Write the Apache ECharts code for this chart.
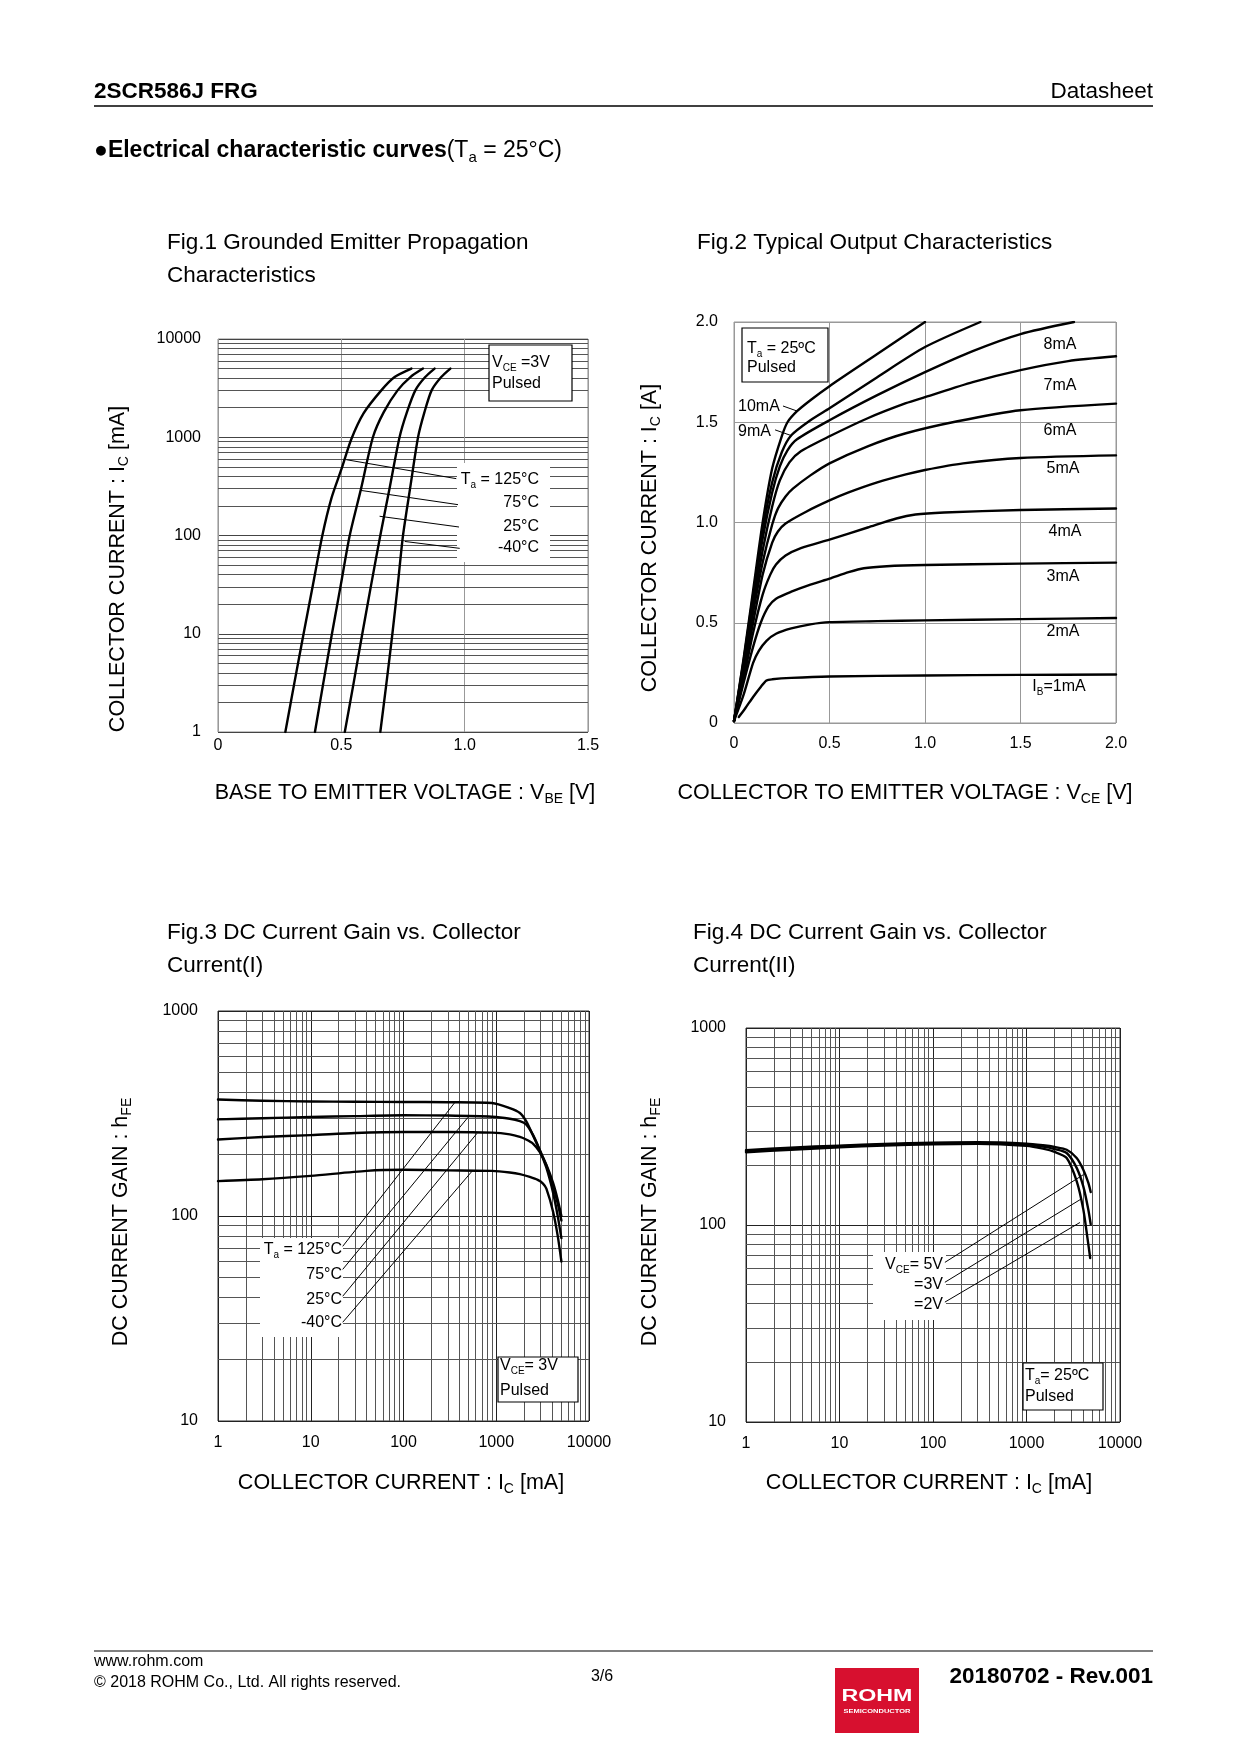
<!DOCTYPE html>
<html><head><meta charset="utf-8">
<script src="https://cdn.jsdelivr.net/npm/echarts@6/dist/echarts.min.js"></script>
<style>html,body{margin:0;padding:0;background:#fff}#c{width:1240px;height:1754px}</style>
</head><body><div id="c"></div>
<script>
const FF = "'Liberation Sans', Arial, Helvetica, sans-serif";

// ---------- Fig.1 : VBE [V] -> IC [mA] ----------
const fig1Ta125 = [[0.273,1],[0.31,3.2],[0.347,10],[0.385,31.6],[0.423,100],[0.46,240],[0.5,470],[0.54,950],[0.59,1750],[0.662,3000],[0.716,4100],[0.784,5000]];
const fig1Ta75  = [[0.393,1],[0.427,3.16],[0.462,10],[0.498,31.6],[0.534,100],[0.58,300],[0.628,1000],[0.672,1800],[0.728,3000],[0.78,4100],[0.831,5000]];
const fig1Ta25  = [[0.514,1],[0.55,3.16],[0.585,10],[0.621,31.6],[0.658,100],[0.697,316],[0.736,1000],[0.766,1800],[0.8,3000],[0.84,4100],[0.878,5000]];
const fig1TaM40 = [[0.658,1],[0.683,3.16],[0.707,10],[0.729,31.6],[0.75,100],[0.78,316],[0.811,1000],[0.837,1800],[0.866,3000],[0.905,4100],[0.942,5000]];
const fig1Leaders = [
  [[0.52,591],[0.966,379]],
  [[0.578,288],[0.973,206]],
  [[0.655,157],[0.977,122]],
  [[0.757,87],[0.98,74]]
];
const fig1Labels = ['T{s|a} = 125°C','75°C','25°C','-40°C'];

// ---------- Fig.2 : VCE [V] -> IC [A] ----------
const fig2IB1  = [[0.025,0.03],[0.06,0.075],[0.1,0.13],[0.14,0.18],[0.17,0.212],[0.2,0.218],[0.3,0.225],[0.5,0.232],[1.0,0.237],[1.5,0.24],[2.0,0.242]];
const fig2IB2  = [[0,0.01],[0.05,0.14],[0.1,0.3],[0.13,0.36],[0.17,0.41],[0.22,0.445],[0.3,0.472],[0.4,0.492],[0.5,0.503],[0.75,0.508],[1.0,0.512],[1.5,0.518],[2.0,0.524]];
const fig2IB3  = [[0,0.01],[0.05,0.2],[0.1,0.38],[0.14,0.5],[0.18,0.58],[0.22,0.62],[0.3,0.655],[0.4,0.69],[0.5,0.72],[0.6,0.752],[0.68,0.772],[0.8,0.782],[1.0,0.788],[1.5,0.795],[2.0,0.8]];
const fig2IB4  = [[0,0.01],[0.05,0.22],[0.1,0.45],[0.15,0.64],[0.19,0.74],[0.22,0.79],[0.27,0.835],[0.35,0.872],[0.5,0.915],[0.7,0.975],[0.85,1.02],[0.95,1.04],[1.1,1.05],[1.5,1.062],[2.0,1.07]];
const fig2IB5  = [[0,0.01],[0.05,0.25],[0.1,0.5],[0.15,0.74],[0.2,0.9],[0.23,0.955],[0.27,0.995],[0.38,1.055],[0.5,1.11],[0.6,1.15],[0.75,1.2],[0.9,1.24],[1.0,1.262],[1.2,1.295],[1.5,1.322],[2.0,1.335]];
const fig2IB6  = [[0,0.01],[0.05,0.27],[0.1,0.55],[0.15,0.8],[0.2,0.99],[0.23,1.07],[0.27,1.13],[0.31,1.17],[0.4,1.235],[0.5,1.295],[0.7,1.38],[0.9,1.445],[1.17,1.505],[1.5,1.56],[2.0,1.593]];
const fig2IB7  = [[0,0.01],[0.05,0.28],[0.1,0.58],[0.15,0.86],[0.2,1.08],[0.24,1.21],[0.29,1.3],[0.35,1.355],[0.5,1.43],[0.7,1.52],[0.9,1.595],[1.0,1.625],[1.25,1.7],[1.5,1.76],[1.75,1.805],[2.0,1.829]];
const fig2IB8  = [[0,0.01],[0.05,0.3],[0.1,0.62],[0.15,0.92],[0.2,1.15],[0.24,1.28],[0.28,1.36],[0.33,1.415],[0.5,1.51],[0.75,1.635],[1.0,1.75],[1.25,1.855],[1.5,1.94],[1.78,2.0]];
const fig2IB9  = [[0,0.01],[0.05,0.31],[0.1,0.64],[0.15,0.96],[0.2,1.2],[0.25,1.35],[0.3,1.435],[0.4,1.51],[0.5,1.57],[0.75,1.725],[1.0,1.875],[1.29,2.0]];
const fig2IB10 = [[0,0.01],[0.05,0.32],[0.1,0.66],[0.15,1.0],[0.2,1.27],[0.25,1.43],[0.28,1.5],[0.33,1.555],[0.4,1.61],[0.5,1.68],[0.75,1.84],[1.0,2.0]];
const fig2Leaders = [
  [[0.2565,1.581],[0.33,1.556]],
  [[0.215,1.462],[0.304,1.432]]
];
const fig2CurveLabels = ['8mA','7mA','6mA','5mA','4mA','3mA','2mA','I{s|B}=1mA'];

// ---------- Fig.3 : IC [mA] -> hFE (VCE=3V) ----------
const fig3Ta125 = [[1,370],[3,365],[10,362],[30,361],[100,360],[300,359],[900,356],[1400,336],[1800,318],[2100,290],[2500,246],[2950,208],[3470,172],[4100,130],[4600,100],[5040,78]];
const fig3Ta75  = [[1,296],[3,300],[10,304],[30,307],[100,310],[300,309],[900,305],[1400,298],[1800,290],[2100,280],[2500,248],[2950,210],[3470,176],[4100,140],[4600,115],[5040,95]];
const fig3Ta25  = [[1,236],[3,243],[10,248],[30,254],[100,257],[300,257],[900,255],[1400,250],[1800,243],[2100,236],[2500,225],[2950,205],[3470,178],[4100,145],[4600,120],[5040,100]];
const fig3TaM40 = [[1,148],[3,151],[10,157],[40,166],[100,168],[300,167],[900,166],[1400,163],[1800,160],[2300,155],[2800,150],[3190,144],[3470,136],[4100,105],[4600,80],[5040,60]];
const fig3Leaders = [
  [[356,357],[22.1,71.1]],
  [[496,303],[22.1,54.9]],
  [[620,253],[22.1,40.6]],
  [[552,166],[22.1,30.3]]
];
const fig3Labels = ['T{s|a} = 125°C','75°C','25°C','-40°C'];

// ---------- Fig.4 : IC [mA] -> hFE (Ta=25°C) ----------
const fig4Vce5 = [[1,240],[3,247],[10,253],[30,258],[100,262],[300,263],[1000,259],[1500,254],[2000,249],[2690,241],[3440,219],[4050,191],[4580,164],[4860,147]];
const fig4Vce3 = [[1,237],[3,244],[10,251],[30,256],[100,260],[300,261],[1000,256],[1500,250],[2000,243],[2690,232],[3440,195],[4050,157],[4580,120],[4860,101]];
const fig4Vce2 = [[1,234],[3,241],[10,248],[30,253],[100,257],[300,258],[1000,252],[1500,244],[2000,235],[2690,219],[3440,167],[4050,120],[4500,85],[4800,68]];
const fig4Leaders = [
  [[4050,180],[134,64.6]],
  [[3890,136],[134,51.2]],
  [[3730,103],[134,40.6]]
];
const fig4Labels = ['V{s|CE}= 5V','=3V','=2V'];

// ---------- tick values ----------
const logMult = [2,3,4,5,6,7,8,9];
const fig1YMinor = [1,10,100,1000].flatMap(d => logMult.map(m => d*m));
const fig34XMinor = [1,10,100,1000].flatMap(d => logMult.map(m => d*m));
const fig34YMinor = [10,100].flatMap(d => logMult.map(m => d*m));

// ---------- helpers ----------
function curve(i, data, w) {
  return {type:'line', xAxisIndex:i, yAxisIndex:i, data, showSymbol:false, symbol:'none',
    smooth:0.25, lineStyle:{color:'#000', width:w||2.4, join:'round', cap:'round'}, z:8, silent:true, animation:false, clip:true};
}
function leader(i, data) {
  return {type:'line', xAxisIndex:i, yAxisIndex:i, data, showSymbol:false, symbol:'none',
    lineStyle:{color:'#000', width:1}, z:9, silent:true, animation:false, clip:false};
}
function gridLines(i, axis, vals, color) {
  return {type:'line', xAxisIndex:i, yAxisIndex:i, data:[], z:1, silent:true, animation:false,
    markLine:{silent:true, z:1, symbol:['none','none'], label:{show:false}, animation:false,
      lineStyle:{type:'solid', color, width:1},
      data: vals.map(v => axis === 'x' ? {xAxis:v} : {yAxis:v})}};
}
function rich(size) {
  const s = Math.round(size*0.65);
  return {
    s:{fontSize:s, fontFamily:FF, fill:'#000', color:'#000', verticalAlign:'bottom', lineHeight:s},
    b:{fontSize:size, fontFamily:FF, fontWeight:'bold', fill:'#000', color:'#000', lineHeight:Math.round(size*1.25)}
  };
}
function T(x, y, text, o) {
  o = o || {};
  const size = o.size || 16;
  const al = o.align || 'left';
  return {type:'text', x, y, rotation:o.rot||0, z:20, silent:true, scaleX:o.sx||1,
    style:{text, fill:o.fill||'#000', fontSize:size, fontFamily:o.ff||FF, fontWeight:o.bold?'bold':'normal',
      textAlign:al, align:al, textVerticalAlign:'middle', verticalAlign:'middle',
      lineHeight:Math.round(size*1.25), rich:rich(size)}};
}
function box(x, y, w, h, fill, stroke, z) {
  return {type:'rect', shape:{x, y, width:w, height:h}, z:z||15, silent:true,
    style:{fill:fill, stroke:stroke||null, lineWidth:stroke?1.2:0}};
}
function hline(x1, x2, y, w) {
  return {type:'line', shape:{x1, y1:y, x2, y2:y}, z:20, silent:true, style:{stroke:'#000', lineWidth:w||1}};
}

const lab = (extra) => Object.assign({fontSize:16, color:'#000', fontFamily:FF, showMinLabel:true, showMaxLabel:true}, extra);
const linFmt = v => v === 0 ? '0' : v.toFixed(1);
const logFmt = v => String(Math.round(v));
const noLine = {show:false};

const option = {
  animation:false,
  backgroundColor:'#fff',
  grid:[
    {left:218, top:339, width:370, height:393, show:true, borderColor:'#888', borderWidth:1, backgroundColor:'transparent'},
    {left:734, top:322, width:382, height:401, show:true, borderColor:'#999', borderWidth:1, backgroundColor:'transparent'},
    {left:218, top:1011, width:371, height:410, show:true, borderColor:'#333', borderWidth:1, backgroundColor:'transparent'},
    {left:746, top:1028, width:374, height:394, show:true, borderColor:'#333', borderWidth:1, backgroundColor:'transparent'}
  ],
  xAxis:[
    {gridIndex:0, type:'value', min:0, max:1.5, interval:0.5, axisLine:noLine, axisTick:noLine,
      splitLine:{show:true, lineStyle:{color:'#999', width:1}}, axisLabel:lab({margin:6, formatter:linFmt})},
    {gridIndex:1, type:'value', min:0, max:2, interval:0.5, axisLine:noLine, axisTick:noLine,
      splitLine:{show:true, lineStyle:{color:'#999', width:1}}, axisLabel:lab({margin:13, formatter:linFmt})},
    {gridIndex:2, type:'log', logBase:10, min:1, max:10000, axisLine:noLine, axisTick:noLine,
      splitLine:{show:true, lineStyle:{color:'#222', width:1}}, axisLabel:lab({margin:14, formatter:logFmt})},
    {gridIndex:3, type:'log', logBase:10, min:1, max:10000, axisLine:noLine, axisTick:noLine,
      splitLine:{show:true, lineStyle:{color:'#222', width:1}}, axisLabel:lab({margin:14, formatter:logFmt})}
  ],
  yAxis:[
    {gridIndex:0, type:'log', logBase:10, min:1, max:10000, axisLine:noLine, axisTick:noLine,
      splitLine:{show:true, lineStyle:{color:'#444', width:1}}, axisLabel:lab({margin:17, formatter:logFmt})},
    {gridIndex:1, type:'value', min:0, max:2, interval:0.5, axisLine:noLine, axisTick:noLine,
      splitLine:{show:true, lineStyle:{color:'#999', width:1}}, axisLabel:lab({margin:16, formatter:linFmt})},
    {gridIndex:2, type:'log', logBase:10, min:10, max:1000, axisLine:noLine, axisTick:noLine,
      splitLine:{show:true, lineStyle:{color:'#222', width:1}}, axisLabel:lab({margin:20, formatter:logFmt})},
    {gridIndex:3, type:'log', logBase:10, min:10, max:1000, axisLine:noLine, axisTick:noLine,
      splitLine:{show:true, lineStyle:{color:'#222', width:1}}, axisLabel:lab({margin:20, formatter:logFmt})}
  ],
  series:[
    gridLines(0, 'y', fig1YMinor, '#555'),
    gridLines(2, 'x', fig34XMinor, '#555'),
    gridLines(2, 'y', fig34YMinor, '#555'),
    gridLines(3, 'x', fig34XMinor, '#555'),
    gridLines(3, 'y', fig34YMinor, '#555'),
    curve(0, fig1Ta125), curve(0, fig1Ta75), curve(0, fig1Ta25), curve(0, fig1TaM40),
    ...fig1Leaders.map(d => leader(0, d)),
    curve(1, fig2IB1), curve(1, fig2IB2), curve(1, fig2IB3), curve(1, fig2IB4), curve(1, fig2IB5),
    curve(1, fig2IB6), curve(1, fig2IB7), curve(1, fig2IB8), curve(1, fig2IB9), curve(1, fig2IB10),
    ...fig2Leaders.map(d => leader(1, d)),
    curve(2, fig3Ta125), curve(2, fig3Ta75), curve(2, fig3Ta25), curve(2, fig3TaM40),
    ...fig3Leaders.map(d => leader(2, d)),
    curve(3, fig4Vce5), curve(3, fig4Vce3), curve(3, fig4Vce2),
    ...fig4Leaders.map(d => leader(3, d))
  ],
  graphic:[
    // header
    T(94, 92, '2SCR586J FRG', {size:22.5, bold:true}),
    T(1153, 92, 'Datasheet', {size:22.5, align:'right'}),
    hline(94, 1153, 106, 1.5),
    T(94, 151, '{b|●Electrical characteristic curves}(T{s|a} = 25°C)', {size:23}),
    // figure titles
    T(167, 243, 'Fig.1 Grounded Emitter Propagation', {size:22.5}),
    T(167, 276, 'Characteristics', {size:22.5}),
    T(697, 243, 'Fig.2 Typical Output Characteristics', {size:22.5}),
    T(167, 933, 'Fig.3 DC Current Gain vs. Collector', {size:22.5}),
    T(167, 966, 'Current(I)', {size:22.5}),
    T(693, 933, 'Fig.4 DC Current Gain vs. Collector', {size:22.5}),
    T(693, 966, 'Current(II)', {size:22.5}),
    // axis titles
    T(118, 569, 'COLLECTOR CURRENT : I{s|C} [mA]', {size:21.5, rot:Math.PI/2, align:'center'}),
    T(405, 793, 'BASE TO EMITTER VOLTAGE : V{s|BE} [V]', {size:21.5, align:'center'}),
    T(650, 538, 'COLLECTOR CURRENT : I{s|C} [A]', {size:21.5, rot:Math.PI/2, align:'center'}),
    T(905, 793, 'COLLECTOR TO EMITTER VOLTAGE : V{s|CE} [V]', {size:21.5, align:'center'}),
    T(121, 1222, 'DC CURRENT GAIN : h{s|FE}', {size:21.5, rot:Math.PI/2, align:'center'}),
    T(401, 1483, 'COLLECTOR CURRENT : I{s|C} [mA]', {size:21.5, align:'center'}),
    T(650, 1222, 'DC CURRENT GAIN : h{s|FE}', {size:21.5, rot:Math.PI/2, align:'center'}),
    T(929, 1483, 'COLLECTOR CURRENT : I{s|C} [mA]', {size:21.5, align:'center'}),
    // Fig.1 annotations
    box(457, 463, 93, 99, '#fff', null, 7),
    ...fig1Labels.map((t, k) => T(539, [480,503,527,548][k], t, {align:'right'})),
    box(489, 345, 83, 56, '#fff', '#000'),
    T(492, 363, 'V{s|CE} =3V'), T(492, 384, 'Pulsed'),
    // Fig.2 annotations
    box(742, 328, 86, 54, '#fff', '#000'),
    T(747, 349, 'T{s|a} = 25ºC'), T(747, 368, 'Pulsed'),
    T(738, 407, '10mA'), T(738, 432, '9mA'),
    ...fig2CurveLabels.map((t, k) => T([1060,1060,1060,1063,1065,1063,1063,1059][k], [345,386,431,469,532,577,632,687][k], t, {align:'center'})),
    // Fig.3 annotations
    box(260, 1238, 83, 99, '#fff', null, 7),
    ...fig3Labels.map((t, k) => T(342, [1250,1275,1300,1323][k], t, {align:'right'})),
    box(498, 1357, 80, 45, '#fff', '#000'),
    T(500, 1366, 'V{s|CE}= 3V'), T(500, 1391, 'Pulsed'),
    // Fig.4 annotations
    box(873, 1252, 73, 68, '#fff', null, 7),
    ...fig4Labels.map((t, k) => T(943, [1265,1285,1305][k], t, {align:'right'})),
    box(1023, 1363, 80, 47, '#fff', '#000'),
    T(1025, 1376, 'T{s|a}= 25ºC'), T(1025, 1397, 'Pulsed'),
    // footer
    hline(94, 1153, 1651, 1.2),
    T(94, 1662, 'www.rohm.com', {size:16}),
    T(94, 1683, '© 2018 ROHM Co., Ltd. All rights reserved.', {size:16}),
    T(602, 1677, '3/6', {size:16, align:'center'}),
    box(835, 1668, 84, 65, '#D7102F', null, 15),
    T(877, 1697, 'ROHM', {size:16, bold:true, align:'center', fill:'#fff', sx:1.45}),
    T(877, 1711, 'SEMICONDUCTOR', {size:6, bold:true, align:'center', fill:'#fff', sx:1.25}),
    T(1153, 1677, '20180702 - Rev.001', {size:22.5, bold:true, align:'right'})
  ]
};

const chart = echarts.init(document.getElementById('c'), null, {renderer:'canvas', width:1240, height:1754});
chart.setOption(option);
</script>
</body></html>
